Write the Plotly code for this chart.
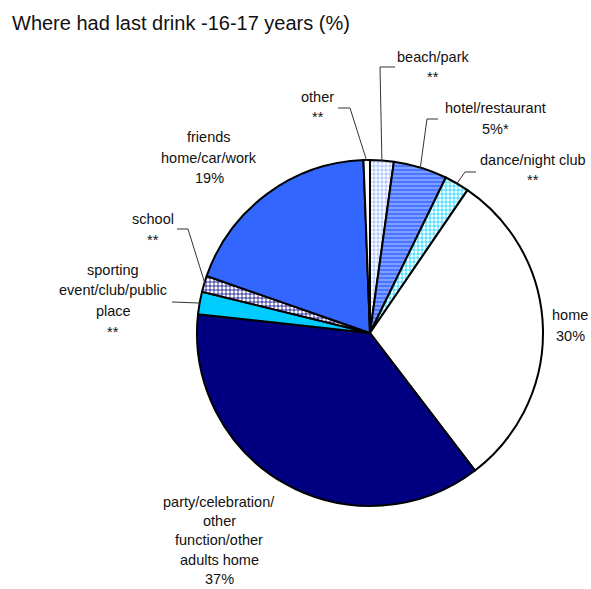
import math
import plotly.graph_objects as go

# Slice data, clockwise from 12 o'clock
categories = ["beach/park", "hotel/restaurant", "dance/night club", "home",
              "party/celebration/other function/other adults home",
              "sporting event/club/public place", "school",
              "friends home/car/work", "other"]
values = [2.2, 5, 2.3, 30, 37, 2.1, 1.5, 19, 0.6]

# Label text shown beside each slice (one entry per line)
label_lines = [
    ["beach/park", "**"],
    ["hotel/restaurant", "5%*"],
    ["dance/night club", "**"],
    ["home", "30%"],
    ["party/celebration/", "other", "function/other", "adults home", "37%"],
    ["sporting", "event/club/public", "place", "**"],
    ["school", "**"],
    ["friends", "home/car/work", "19%"],
    ["other", "**"],
]

W, H = 591, 589
CX, CY, R = 370, 333, 173          # pie centre / radius in pixels

fill_colors = ["#FFFFFF", "#7F9CFF", "#FFFFFF", "#FFFFFF", "#000080",
               "#00CCFF", "#FFFFFF", "#3366FF", "#FFFFFF"]
pat_shapes = ["+", "-", "+", "", "", "", "+", "", ""]
pat_fg = ["#8FB0FF", "#3366FF", "#00CCFF", "#FFFFFF", "#000080",
          "#00CCFF", "#000080", "#3366FF", "#FFFFFF"]

# label placement (centre x, first-line y) in pixels, line gap, and leader polylines
label_pos = [(433, 57), (495, 108), (533, 160), (570, 315), (219, 502),
             (113, 270), (153, 219), (209, 137), (318, 97)]
label_gap = [20.5, 20.5, 20.5, 20.5, 19.2, 20.5, 20.5, 20.5, 20.5]
leaders = {0: [(395, 67), (380, 67)],
           1: [(438, 119), (427, 119)],
           2: [(476, 172), (465, 172)],
           5: [(172, 302)],
           6: [(177, 229), (188, 229)],
           8: [(338, 108), (350, 108)]}


def px(x):
    return x / W


def py(y):
    return 1 - y / H


fig = go.Figure(go.Pie(
    labels=categories,
    values=values,
    sort=False,
    direction="clockwise",
    rotation=0,
    textinfo="none",
    hoverinfo="label+percent",
    marker=dict(
        colors=fill_colors,
        line=dict(color="#000000", width=2),
        pattern=dict(shape=pat_shapes, fgcolor=pat_fg, bgcolor=fill_colors,
                     size=4, solidity=0.35),
    ),
    domain=dict(x=[px(CX - R), px(CX + R)], y=[py(CY + R), py(CY - R)]),
    showlegend=False,
))

total = sum(values)
cum = 0.0
mid_angles = []
for v in values:
    mid_angles.append((cum + v / 2) / total * 2 * math.pi)
    cum += v


def edge_point(i, rr=R):
    a = mid_angles[i]
    return CX + rr * math.sin(a), CY - rr * math.cos(a)


shapes = []
for i, pts in leaders.items():
    ex, ey = edge_point(i, R - 1)
    all_pts = list(pts) + [(ex, ey)]
    path = "M " + " L ".join(f"{px(x):.5f},{py(y):.5f}" for x, y in all_pts)
    shapes.append(dict(type="path", path=path, xref="paper", yref="paper",
                       line=dict(color="#333333", width=1)))

annotations = [dict(text="Where had last drink -16-17 years (%)",
                    x=px(10), y=py(23), xref="paper", yref="paper",
                    xanchor="left", yanchor="middle", showarrow=False,
                    font=dict(size=20, color="#111111"))]
for lines, (lx, ly), gap in zip(label_lines, label_pos, label_gap):
    for k, t in enumerate(lines):
        annotations.append(dict(text=t, x=px(lx), y=py(ly + k * gap),
                                xref="paper", yref="paper",
                                xanchor="center", yanchor="middle",
                                showarrow=False,
                                font=dict(size=14.5, color="#111111")))

fig.update_layout(
    width=W, height=H,
    margin=dict(l=0, r=0, t=0, b=0),
    paper_bgcolor="#FFFFFF",
    font=dict(family="Liberation Sans, Arial, sans-serif"),
    shapes=shapes,
    annotations=annotations,
)

fig.write_html("out.html")
